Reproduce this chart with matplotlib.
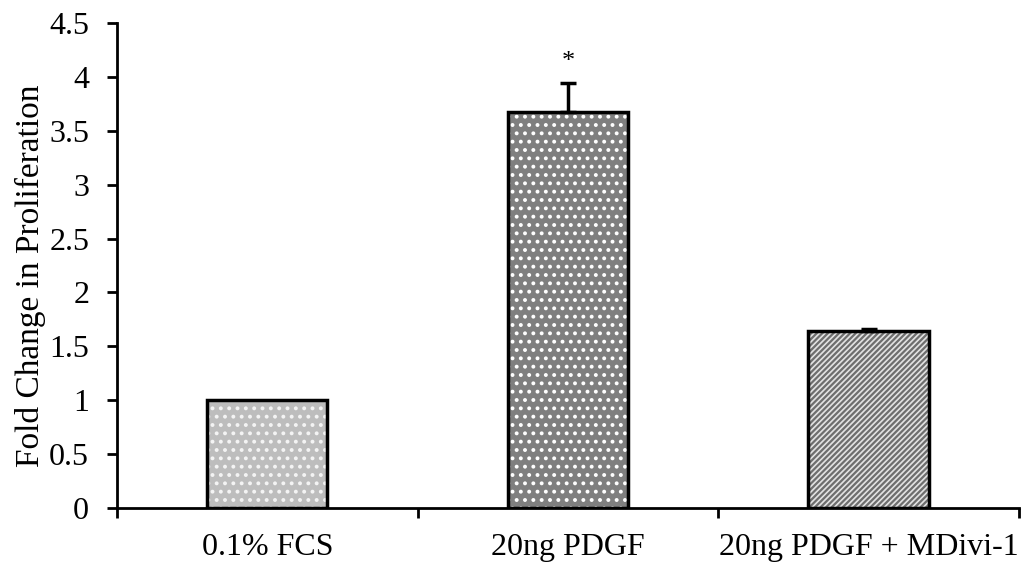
import matplotlib
matplotlib.use("Agg")
import matplotlib.pyplot as plt
import numpy as np

# Data
groups = ['0.1% FCS', '20ng PDGF', '20ng PDGF + MDivi-1']
fold_change = [1.0, 3.67, 1.64]
err_upper = [0.0, 0.27, 0.02]
signif = ['', '*', '']

face_colors = ['#bdbdbd', '#7f7f7f', '#e2e2e2']
hatches = ['..', '..', '//////']
hatch_colors = ['#f4f4f4', 'white', '#6e6e6e']

plt.rcParams['font.family'] = ['Liberation Serif', 'DejaVu Serif']
plt.rcParams['hatch.linewidth'] = 1.6

fig = plt.figure(figsize=(10.22, 5.68), dpi=100)
ax = fig.add_axes([0.1145, 0.1056, 0.8825, 0.854])

x = np.arange(len(groups))
# patterned fill first, then black outline on top
for i in range(len(groups)):
    ax.bar(x[i], fold_change[i], width=0.4, color=face_colors[i],
           hatch=hatches[i], edgecolor=hatch_colors[i], linewidth=0, zorder=2)
ax.bar(x, fold_change, width=0.4, fill=False, edgecolor='black', linewidth=2.5, zorder=3)

for i in range(len(groups)):
    if err_upper[i] > 0:
        ax.errorbar(x[i], fold_change[i], yerr=[[0], [err_upper[i]]], fmt='none',
                    ecolor='black', elinewidth=2.5, capsize=6, capthick=2.5, zorder=4)

for i, s in enumerate(signif):
    if s:
        ax.text(x[i], fold_change[i] + err_upper[i] + 0.1, s, ha='center',
                va='bottom', fontsize=19)

ax.set_xlim(-0.5, len(groups) - 0.5)
ax.set_ylim(0, 4.5)
ax.set_yticks(np.arange(0, 4.51, 0.5))
ax.set_yticklabels(['0', '0.5', '1', '1.5', '2', '2.5', '3', '3.5', '4', '4.5'])
ax.set_xticks(x)
ax.set_xticklabels(groups)
ax.set_xticks(np.arange(-0.5, len(groups), 1.0), minor=True)
ax.tick_params(axis='x', which='major', length=0, labelsize=23, pad=18)
ax.tick_params(axis='x', which='minor', length=7, width=2, direction='out')
ax.tick_params(axis='y', length=7, width=2, direction='out', labelsize=23, pad=13)

ax.spines['top'].set_visible(False)
ax.spines['right'].set_visible(False)
ax.spines['left'].set_linewidth(2)
ax.spines['bottom'].set_linewidth(2)

ax.set_ylabel('Fold Change in Proliferation', fontsize=24)
ax.yaxis.set_label_coords(-0.079, 0.478)

fig.savefig('out.png', dpi=100)
